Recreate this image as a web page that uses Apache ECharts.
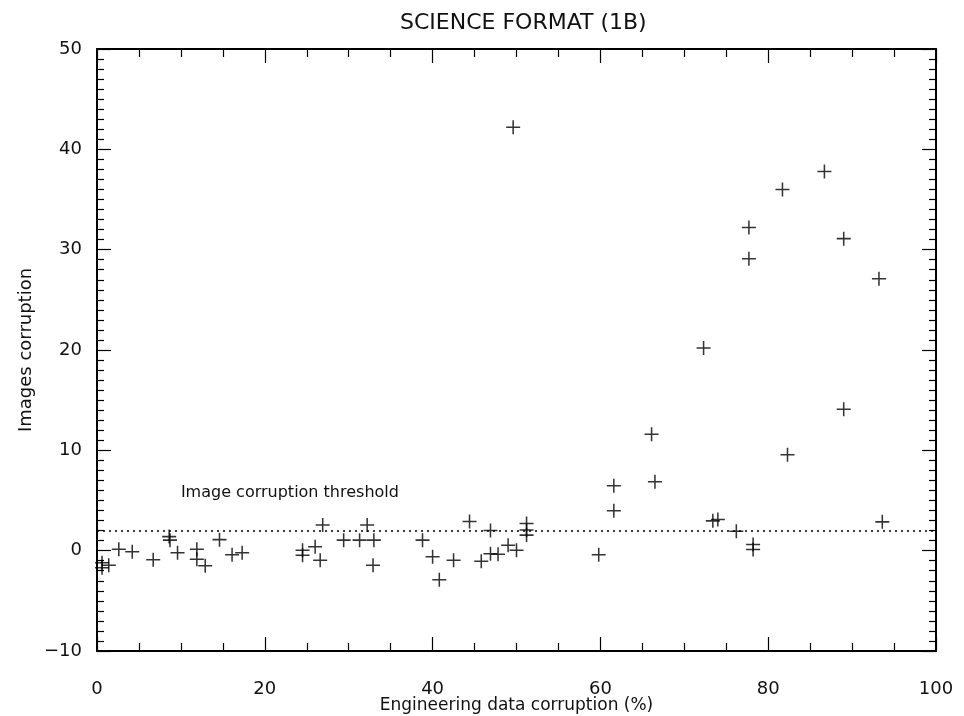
<!DOCTYPE html>
<html>
<head>
<meta charset="utf-8">
<title>SCIENCE FORMAT (1B)</title>
<script src="https://cdn.jsdelivr.net/npm/echarts@6/dist/echarts.min.js"></script>
<style>
  html, body { margin: 0; padding: 0; background: #fff; }
  #main { width: 964px; height: 716px; }
</style>
</head>
<body>
<div id="main"></div>
<script>
// engineering data corruption (%) of each image
var engCorruption = [
    0.6, 0.6, 1.4, 2.6, 4.2, 6.7, 8.6, 8.7, 9.6, 11.9, 11.9, 12.9, 14.6, 16.1, 17.3,
    24.5, 24.5, 26.0, 26.6, 26.9, 29.4, 31.3, 32.2, 33.0, 32.9, 38.8, 40.0, 40.8, 42.5,
    44.4, 45.8, 46.9, 46.9, 47.8, 49.0, 50.0, 51.2, 51.2, 51.2, 49.6,
    59.8, 61.6, 61.6, 66.1, 66.5, 72.3, 73.4, 74.0, 76.2, 77.7, 77.7, 78.2, 78.2,
    81.7, 82.3, 86.7, 89.0, 89.0, 93.2, 93.6
];
// images corruption, same order
var imgCorruption = [
    -1.2, -1.7, -1.45, 0.15, -0.1, -0.9, 1.4, 1.05, -0.2, 0.15, -0.85, -1.5, 1.1, -0.4, -0.2,
    0.05, -0.45, 0.4, -0.95, 2.55, 1.05, 1.05, 2.55, 1.05, -1.45, 1.05, -0.6, -2.9, -0.95,
    2.9, -1.05, 2.0, -0.3, -0.35, 0.55, 0.05, 2.7, 2.05, 1.55, 42.2,
    -0.4, 3.97, 6.46, 11.6, 6.86, 20.2, 2.97, 3.1, 1.94, 32.2, 29.1, 0.62, 0.12,
    36.0, 9.55, 37.8, 31.1, 14.1, 27.1, 2.87
];
var threshold = 2;
var thresholdText = 'Image corruption threshold';
var xTicks = [0, 20, 40, 60, 80, 100];
var yTicks = [-10, 0, 10, 20, 30, 40, 50];

var points = [];
for (var i = 0; i < engCorruption.length; i++) {
    points.push([engCorruption[i], imgCorruption[i]]);
}

var font = 'DejaVu Sans';
var plusPath = 'path://M-0.11,-1H0.11V-0.11H1V0.11H0.11V1H-0.11V0.11H-1V-0.11H-0.11Z';

// tick labels use a real minus sign
function fmt(v) {
    return String(v).replace('-', '\u2212');
}

function xAxisOpt(pos, showLabel) {
    return {
        type: 'value', position: pos,
        min: xTicks[0], max: xTicks[xTicks.length - 1], interval: 20,
        name: showLabel ? 'Engineering data corruption (%)' : '',
        nameLocation: 'middle', nameGap: 46, nameMoveOverlap: false,
        nameTextStyle: { fontFamily: font, fontSize: 17, color: '#111' },
        axisLine: { show: true, onZero: false, lineStyle: { color: '#000', width: 2 } },
        axisTick: { show: true, inside: true, length: 14, lineStyle: { color: '#000', width: 1.2 } },
        minorTick: { show: true, splitNumber: 4, length: 8, lineStyle: { color: '#000', width: 1.2 } },
        axisLabel: { show: showLabel, margin: 29, fontFamily: font, fontSize: 18, color: '#111', formatter: fmt },
        splitLine: { show: false }
    };
}
function yAxisOpt(pos, showLabel) {
    return {
        type: 'value', position: pos,
        min: yTicks[0], max: yTicks[yTicks.length - 1], interval: 10,
        name: showLabel ? 'Images corruption' : '',
        nameLocation: 'middle', nameGap: 62, nameMoveOverlap: false,
        nameTextStyle: { fontFamily: font, fontSize: 18, color: '#111' },
        axisLine: { show: true, onZero: false, lineStyle: { color: '#000', width: 2 } },
        axisTick: { show: true, inside: true, length: 14, lineStyle: { color: '#000', width: 1.2 } },
        minorTick: { show: true, splitNumber: 10, length: 7, lineStyle: { color: '#000', width: 1.2 } },
        axisLabel: { show: showLabel, margin: 15, fontFamily: font, fontSize: 18, color: '#111', formatter: fmt },
        splitLine: { show: false }
    };
}

var myChart = echarts.init(document.getElementById('main'));
var option = {
    backgroundColor: '#fff',
    animation: false,
    title: {
        text: 'SCIENCE FORMAT (1B)',
        left: 395, top: 7,
        textStyle: { fontFamily: font, fontWeight: 'normal', fontSize: 22, color: '#111' }
    },
    grid: { left: 97, right: 28, top: 49, bottom: 65, containLabel: false, outerBoundsMode: 'none' },
    xAxis: [xAxisOpt('bottom', true), xAxisOpt('top', false)],
    yAxis: [yAxisOpt('left', true), yAxisOpt('right', false)],
    series: [
        {
            type: 'scatter',
            data: points,
            symbol: plusPath,
            symbolSize: 14,
            itemStyle: { color: '#000' },
            markLine: {
                silent: true,
                symbol: 'none',
                label: { show: false },
                lineStyle: { color: '#000', type: [2, 4], width: 1.5 },
                data: [{ yAxis: threshold }]
            },
            markPoint: {
                silent: true,
                symbol: 'circle',
                symbolSize: 0,
                label: {
                    show: true, position: 'right', distance: 0,
                    formatter: thresholdText,
                    fontFamily: font, fontSize: 16, color: '#111'
                },
                data: [{ coord: [10, 5.8] }]
            }
        }
    ]
};
myChart.setOption(option);
</script>
</body>
</html>
